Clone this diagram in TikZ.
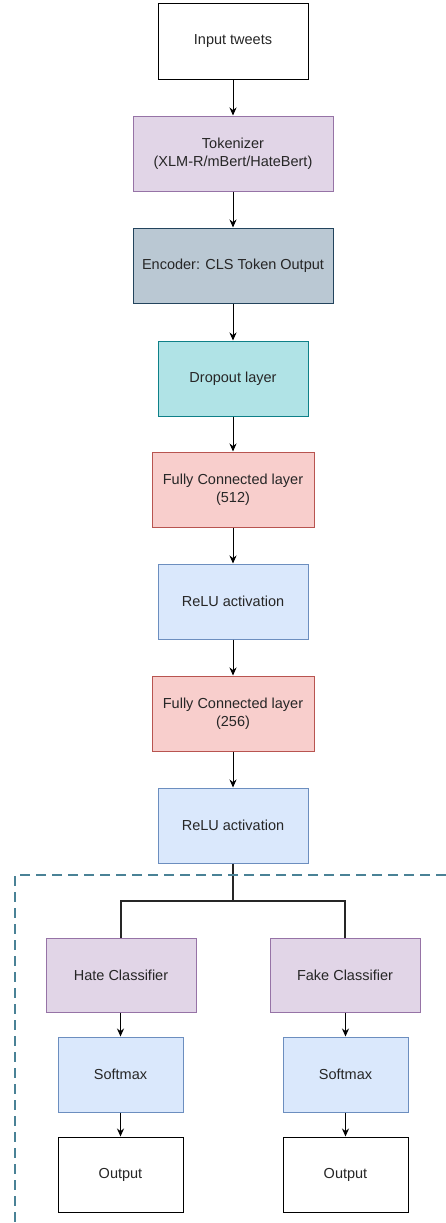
\documentclass[tikz,border=0pt]{standalone}
\usepackage{fontspec}
\setmainfont{Liberation Sans}
\usepackage{xcolor}
\usetikzlibrary{arrows.meta,positioning,calc}

\definecolor{purpfill}{HTML}{E1D5E7}
\definecolor{purpline}{HTML}{9673A6}
\definecolor{encfill}{HTML}{BAC8D3}
\definecolor{encline}{HTML}{23445D}
\definecolor{dropfill}{HTML}{B0E3E6}
\definecolor{dropline}{HTML}{0E8088}
\definecolor{fcfill}{HTML}{F8CECC}
\definecolor{fcline}{HTML}{B85450}
\definecolor{actfill}{HTML}{DAE8FC}
\definecolor{actline}{HTML}{6C8EBF}
\definecolor{grpline}{HTML}{4A8296}

\begin{document}
\begin{tikzpicture}[
    x=1pt, y=-1pt,
    box/.style={rectangle, draw, line width=1pt, minimum width=150pt, minimum height=75pt, inner sep=0pt, align=center, font=\fontsize{14.5}{18}\selectfont, text=black!85},
    plain/.style={box, fill=white, draw=black},
    purp/.style={box, fill=purpfill, draw=purpline},
    enc/.style={box, fill=encfill, draw=encline},
    drop/.style={box, fill=dropfill, draw=dropline},
    fc/.style={box, fill=fcfill, draw=fcline, minimum width=162pt},
    act/.style={box, fill=actfill, draw=actline},
    arrow/.style={-{Stealth[length=8pt,width=7pt]}, line width=1pt},
    branch/.style={line width=2pt, black!85}
]
    \useasboundingbox (0,0) rectangle (446,1223);

    % Main column
    \node[plain] (inp) at (233,41.5) {Input tweets};
    \node[purp, minimum width=200pt] (tok) at (233,153.5) {Tokenizer\\(XLM-R/mBert/HateBert)};
    \node[enc, minimum width=200pt] (enc) at (233,265.5) {Encoder: CLS Token Output};
    \node[drop] (drop) at (233,378.5) {Dropout layer};
    \node[fc] (fc1) at (233,489.5) {Fully Connected layer\\(512)};
    \node[act] (relu1) at (233,601.5) {ReLU activation};
    \node[fc] (fc2) at (233,713.5) {Fully Connected layer\\(256)};
    \node[act] (relu2) at (233,825.5) {ReLU activation};

    % Two heads
    \node[purp, minimum height=74pt] (hate) at (121,975) {Hate Classifier};
    \node[purp, minimum height=74pt] (fake) at (345,975) {Fake Classifier};
    \node[act, minimum width=125pt] (smh) at (120.5,1074.5) {Softmax};
    \node[act, minimum width=125pt] (smf) at (345.5,1074.5) {Softmax};
    \node[plain, minimum width=125pt] (outh) at (120.5,1174.5) {Output};
    \node[plain, minimum width=125pt] (outf) at (345.5,1174.5) {Output};

    % Arrows
    \draw[arrow] (inp) -- (tok);
    \draw[arrow] (tok) -- (enc);
    \draw[arrow] (enc) -- (drop);
    \draw[arrow] (drop) -- (fc1);
    \draw[arrow] (fc1) -- (relu1);
    \draw[arrow] (relu1) -- (fc2);
    \draw[arrow] (fc2) -- (relu2);
    \draw[arrow] (hate.south -| smh) -- (smh);
    \draw[arrow] (fake.south -| smf) -- (smf);
    \draw[arrow] (smh) -- (outh);
    \draw[arrow] (smf) -- (outf);

    % Split to heads
    \coordinate (split) at (233,901);
    \draw[branch] (relu2.south) -- (split) -| (hate.north);
    \draw[branch] (split) -| (fake.north);

    % Dashed group
    \draw[grpline, line width=1.3pt, dash pattern=on 10pt off 6pt] (446,875) -- (15,875) -- (15,1223);
\end{tikzpicture}
\end{document}
